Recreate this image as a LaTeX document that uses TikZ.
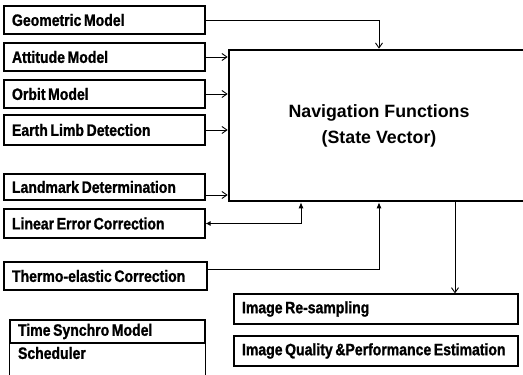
\documentclass[tikz,border=0pt]{standalone}
\usepackage{fontspec}
\setmainfont[FakeStretch=0.85,BoldFeatures={FakeBold=1.2}]{Liberation Sans}
\newfontfamily\navfont{Liberation Sans}
\usetikzlibrary{arrows.meta}
\newcommand\tightsp{\spaceskip=0.16em plus 0.05em\relax}
\tikzset{
  box/.style={draw, line width=1.1pt, inner ysep=0pt, inner xsep=8pt, align=left,
    font=\fontsize{16.5}{18}\selectfont\bfseries, execute at begin node=\tightsp},
  navbox/.style={draw, line width=2.6pt, align=center,
    font=\navfont\fontsize{17.8}{26}\selectfont\bfseries},
  conn/.style={line width=0.9pt},
  opentip/.style={-{Straight Barb[length=5pt,width=7pt]}},
  filledtip/.style={-{Latex[length=6pt,width=5pt]}},
}
\begin{document}
\begin{tikzpicture}[x=1pt,y=-1pt]
\useasboundingbox (0,0) rectangle (523,375);
\clip (0,0) rectangle (523,375);
% left boxes
\node[box, text width=185pt, minimum height=28pt] (geo) at (104.5,20) {\mbox{Geometric Model}};
\node[box, text width=185pt, minimum height=28pt] (att) at (104.5,57) {\mbox{Attitude Model}};
\node[box, text width=185pt, minimum height=28pt] (orb) at (104.5,94) {\mbox{Orbit Model}};
\node[box, text width=185pt, minimum height=30pt] (earth) at (104.5,130) {\mbox{Earth Limb Detection}};
\node[box, text width=185pt, minimum height=26pt] (land) at (104.5,187) {\mbox{Landmark Determination}};
\node[box, text width=185pt, minimum height=29pt] (lin) at (104.5,223.5) {\mbox{Linear Error Correction}};
\node[box, text width=187pt, minimum height=28pt] (thermo) at (105.5,276) {\mbox{Thermo-elastic Correction}};
% time synchro / scheduler
\node[box, text width=179pt, minimum height=23pt] (ts) at (107.5,331.5) {\mbox{Time Synchro Model}};
\node[box, draw=none, text width=179pt, minimum height=20pt] (sched) at (107.5,353) {\mbox{Scheduler}};
\draw[line width=1.1pt] (ts.south west) -- ++(0,45);
\draw[line width=1.1pt] (ts.south east) -- ++(0,45);
% navigation
\node[navbox, minimum width=300pt, minimum height=151pt] (nav) at (379,125.5)
  {Navigation Functions\\(State Vector)};
% right boxes
\node[box, text width=268pt, minimum height=30pt] (resamp) at (376,309) {\mbox{Image Re-sampling}};
\node[box, text width=268pt, minimum height=30pt] (qual) at (376,351) {\mbox{Image Quality \&Performance Estimation}};
% coordinates for connector columns
\coordinate (lx) at (301,0);
\coordinate (dx) at (455,0);
% connectors
\draw[conn, opentip] (geo.east) -| (nav.north);
\draw[conn, opentip] (att.east) -- (att.east -| nav.west);
\draw[conn, opentip] (orb.east) -- (orb.east -| nav.west);
\draw[conn, opentip] (earth.east) -- (earth.east -| nav.west);
\draw[conn, opentip] ([yshift=-8pt]land.east) -- ([yshift=-8pt]land.east -| nav.west);
\draw[conn, {Latex[length=5pt,width=5pt]}-{Latex[length=6pt,width=5pt]}] (lin.east) -| (nav.south -| lx);
\draw[conn, filledtip] ([yshift=7pt]thermo.east) -| (nav.south);
\draw[conn, opentip] (nav.south -| dx) -- (resamp.north -| dx);
\end{tikzpicture}
\end{document}
